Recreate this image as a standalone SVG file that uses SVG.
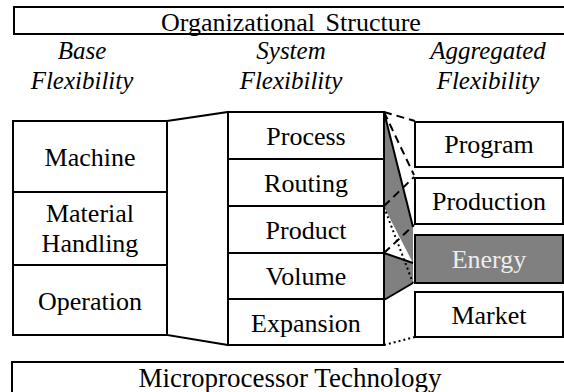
<svg xmlns="http://www.w3.org/2000/svg" width="564" height="392" viewBox="0 0 564 392">
<style>
.box{fill:#fff;stroke:#000;stroke-width:2}
.dark{fill:#808080;stroke:#000;stroke-width:2}
text{font-family:'Liberation Serif','Times New Roman',serif;font-size:26px;fill:#000;text-anchor:middle}
.h{font-style:italic;font-size:25px}
.w{fill:#ededed}
.ln{fill:none;stroke:#000;stroke-width:2}
.dash{fill:none;stroke:#000;stroke-width:2;stroke-dasharray:8 5}
.dot{fill:none;stroke:#000;stroke-width:2;stroke-dasharray:2 3}
</style>
<rect width="564" height="392" fill="#fff"/>
<g id="org">
<rect class="box" x="14" y="7" width="560" height="27"/>
<text x="291" y="31" style="word-spacing:4px">Organizational Structure</text>
</g>
<g id="headers">
<text class="h" x="82" y="59">Base</text>
<text class="h" x="82" y="89">Flexibility</text>
<text class="h" x="291" y="59">System</text>
<text class="h" x="291" y="89">Flexibility</text>
<text class="h" x="488" y="59">Aggregated</text>
<text class="h" x="488" y="89">Flexibility</text>
</g>
<g id="connectors">
<polygon class="box" points="167,121 228,112 228,345 167,335"/>
<polygon fill="#808080" points="384,112 413,227 413,283 384,300 384,253 413,263 384,207"/>
<line class="ln" x1="384" y1="112" x2="413" y2="227"/>
<line class="ln" x1="384" y1="300" x2="413" y2="283"/>
<line class="ln" x1="384" y1="253" x2="413" y2="263"/>
<line class="dash" x1="384" y1="112" x2="415" y2="121"/>
<line class="dash" x1="384" y1="112" x2="414" y2="175"/>
<line class="dash" x1="384" y1="206" x2="414" y2="177"/>
<line class="dash" x1="384" y1="253" x2="414" y2="225"/>
<line class="dot" x1="384" y1="207" x2="413" y2="283"/>
<line class="dot" x1="384" y1="345" x2="415" y2="337"/>
</g>
<g id="machine"><rect class="box" x="13" y="121" width="154" height="71"/><text x="90" y="166">Machine</text></g>
<g id="material"><rect class="box" x="13" y="192" width="154" height="73"/><text x="90" y="222">Material</text><text x="90" y="252">Handling</text></g>
<g id="operation"><rect class="box" x="13" y="265" width="154" height="70"/><text x="90" y="310">Operation</text></g>
<g id="process"><rect class="box" x="228" y="112" width="156" height="47"/><text x="306" y="145">Process</text></g>
<g id="routing"><rect class="box" x="228" y="159" width="156" height="47"/><text x="306" y="192">Routing</text></g>
<g id="product"><rect class="box" x="228" y="206" width="156" height="47"/><text x="306" y="239">Product</text></g>
<g id="volume"><rect class="box" x="228" y="253" width="156" height="46"/><text x="306" y="285">Volume</text></g>
<g id="expansion"><rect class="box" x="228" y="299" width="156" height="46"/><text x="306" y="332">Expansion</text></g>
<g id="program"><rect class="box" x="415" y="122" width="148" height="45"/><text x="489" y="153">Program</text></g>
<g id="production"><rect class="box" x="415" y="178" width="148" height="46"/><text x="489" y="210">Production</text></g>
<g id="energy"><rect class="dark" x="415" y="235" width="148" height="48"/><text class="w" x="489" y="268">Energy</text></g>
<g id="market"><rect class="box" x="415" y="292" width="148" height="45"/><text x="489" y="324">Market</text></g>
<g id="micro">
<rect class="box" x="12" y="362" width="562" height="40"/>
<text x="290" y="387" style="font-size:27px">Microprocessor Technology</text>
</g>
</svg>
